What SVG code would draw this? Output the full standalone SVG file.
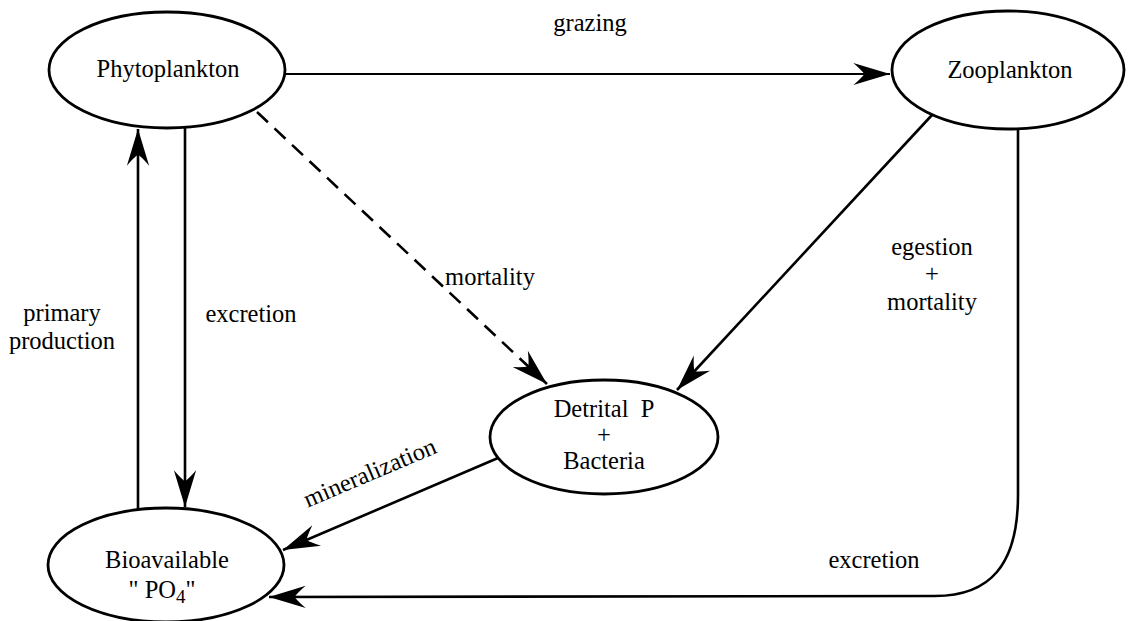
<svg xmlns="http://www.w3.org/2000/svg" width="1128" height="621" viewBox="0 0 1128 621">
<defs>
<style>
text{font-family:"Liberation Serif","Times New Roman",serif;font-size:24.5px;fill:#000;text-anchor:middle}
.node ellipse{fill:#fff;stroke:#000;stroke-width:2.8}
.edge{fill:none;stroke:#000;stroke-width:2.6}
.thin{stroke-width:2}
.dash{stroke-dasharray:15 9}
</style>
<marker id="arr" markerUnits="userSpaceOnUse" markerWidth="40" markerHeight="30" viewBox="-34 -12 36 24" refX="0" refY="0" orient="auto">
<path d="M0,0 L-33,-10 Q-26,-4 -23,0 Q-26,4 -33,10 Z" fill="#000"/>
</marker>
</defs>
<rect width="1128" height="621" fill="#fff"/>
<g id="connectors">
<path class="edge thin" d="M285,74 L890,74" marker-end="url(#arr)"/>
<path class="edge" d="M185,128 L185,507" marker-end="url(#arr)"/>
<path class="edge" d="M138,509 L138,129" marker-end="url(#arr)"/>
<path class="edge dash" d="M257,112 L547,384" marker-end="url(#arr)"/>
<path class="edge" d="M932,115 L677,390" marker-end="url(#arr)"/>
<path class="edge" d="M498,458 L283,550" marker-end="url(#arr)"/>
<path class="edge" d="M1018,129 L1018,495 C1018,565 990,596 935,596 L269,597" marker-end="url(#arr)"/>
<text x="590" y="31">grazing</text>
<text x="490" y="285">mortality</text>
<text x="251" y="322">excretion</text>
<text x="62" y="321">primary</text>
<text x="62" y="349">production</text>
<text x="932" y="255">egestion</text>
<text x="932" y="282">+</text>
<text x="932" y="310">mortality</text>
<text x="874" y="568">excretion</text>
<text x="0" y="0" transform="translate(373,480) rotate(-23)">mineralization</text>
</g>
<g id="phytoplankton" class="node">
<ellipse cx="167" cy="70" rx="118" ry="58"/>
<text x="168" y="77">Phytoplankton</text>
</g>
<g id="zooplankton" class="node">
<ellipse cx="1008" cy="70" rx="116" ry="59"/>
<text x="1010" y="78">Zooplankton</text>
</g>
<g id="detrital" class="node">
<ellipse cx="604" cy="437" rx="114" ry="57"/>
<text x="604" y="417" xml:space="preserve">Detrital  P</text>
<text x="604" y="443">+</text>
<text x="604" y="469">Bacteria</text>
</g>
<g id="bioavailable" class="node">
<ellipse cx="166" cy="565" rx="118" ry="57"/>
<text x="167" y="568">Bioavailable</text>
<text x="162" y="598">" PO<tspan dy="5" font-size="19">4</tspan><tspan dy="-5">"</tspan></text>
</g>
</svg>
